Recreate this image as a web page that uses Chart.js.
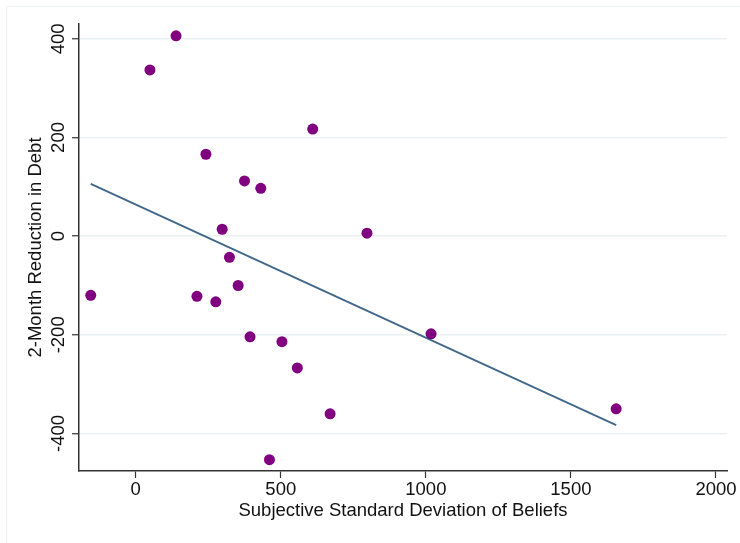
<!DOCTYPE html>
<html>
<head>
<meta charset="utf-8">
<script src="https://cdn.jsdelivr.net/npm/chart.js@4"></script>
<style>
  html, body { margin: 0; padding: 0; background: #fff; }
  #wrap { position: relative; width: 740px; height: 543px; overflow: hidden; }
  #frame { position: absolute; left: 6px; top: 6px; width: 760px; height: 560px;
           border-left: 1.5px solid #edf2f2; border-top: 1.5px solid #edf2f2; }
  #chart { position: absolute; left: 0; top: 0; }
</style>
</head>
<body>
<div id="wrap">
  <div id="frame"></div>
  <canvas id="chart" width="740" height="543"></canvas>
</div>
<script>
// data
let sdBeliefs = [-155, 49, 139, 242, 375, 431, 610, 298, 323, 797, 211, 276, 353, 394, 504, 557, 670, 461, 1018, 1656];
let debtReduction = [-120, 337, 406, 166, 112, 97, 217, 14, -43, 6, -122, -133, -100, -204, -214, -267, -360, -453, -198, -350];
let fitX = [-155, 1656];
let fitY = [106, -383];
let xTicks = [0, 500, 1000, 1500, 2000];
let yTicks = [-400, -200, 0, 200, 400];

let font = { family: "'Liberation Sans', Arial, sans-serif", size: 18.5 };

let points = sdBeliefs.map((x, i) => ({ x: x, y: debtReduction[i] }));
let fit = fitX.map((x, i) => ({ x: x, y: fitY[i] }));

let ctx = document.getElementById("chart").getContext("2d");

let chart = new Chart(ctx, {
  type: "scatter",
  data: {
    datasets: [{
      label: "Reduction",
      data: points,
      backgroundColor: "#800080",
      borderColor: "#800080",
      pointRadius: 5.5,
      pointBorderWidth: 0
    }, {
      type: "line",
      label: "Fitted",
      data: fit,
      borderColor: "#40678a",
      borderWidth: 1.8,
      pointRadius: 0,
      fill: false
    }]
  },
  options: {
    responsive: false,
    animation: false,
    events: [],
    layout: { padding: { top: 24, right: 13, left: 0, bottom: 0 } },
    plugins: { legend: { display: false }, tooltip: { enabled: false } },
    scales: {
      x: {
        type: "linear",
        min: -195.5,
        max: 2038,
        afterFit: s => { s.height = 72; },
        afterBuildTicks: s => { s.ticks = xTicks.map(v => ({ value: v })); },
        border: { color: "#333", width: 1.5 },
        grid: { drawOnChartArea: false, tickLength: 7, tickColor: "#333", tickWidth: 1.2 },
        ticks: { color: "#111", font: font, padding: 1, maxRotation: 0, callback: v => String(v) },
        title: {
          display: true,
          text: "Subjective Standard Deviation of Beliefs",
          color: "#111",
          font: font,
          padding: { top: 0, bottom: 21 }
        }
      },
      y: {
        type: "linear",
        min: -476,
        max: 430,
        afterFit: s => { s.width = 79; },
        afterBuildTicks: s => { s.ticks = yTicks.map(v => ({ value: v })); },
        border: { color: "#333", width: 1.5 },
        grid: { color: "#e9f1f3", lineWidth: 1.5, tickLength: 7, tickColor: "#333", tickWidth: 1.2 },
        ticks: { color: "#111", font: font, padding: -5, minRotation: 90, maxRotation: 90, crossAlign: "center", callback: v => String(v) },
        title: {
          display: true,
          text: "2-Month Reduction in Debt",
          color: "#111",
          font: font,
          padding: { top: 25, bottom: 0 }
        }
      }
    }
  }
});
</script>
</body>
</html>
